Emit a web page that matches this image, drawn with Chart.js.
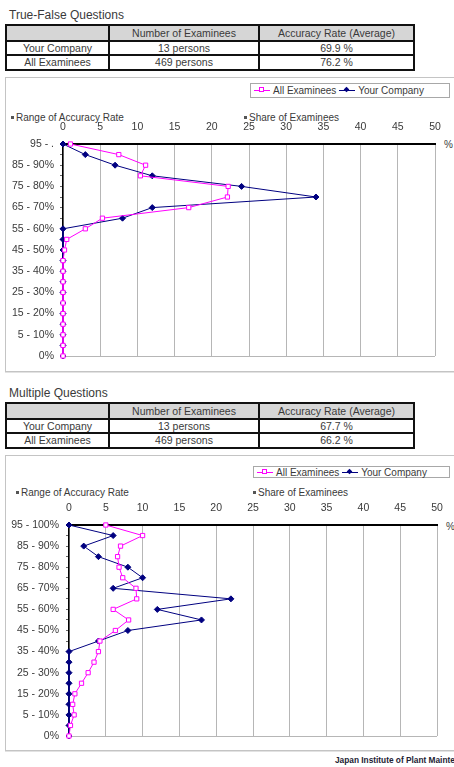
<!DOCTYPE html>
<html>
<head>
<meta charset="utf-8">
<script src="https://cdn.jsdelivr.net/npm/chart.js@4/dist/chart.umd.min.js"></script>
<style>
  body { margin:0; width:454px; height:767px; overflow:hidden; background:#fff; position:relative;
         font-family:"Liberation Sans", Arial, sans-serif; color:#3a3a3a; }
  .abs { position:absolute; white-space:nowrap; }
  .title { font-size:12px; }
  table.sum { position:absolute; left:5px; border-collapse:collapse; font-size:10.5px; table-layout:fixed; }
  table.sum td { border:2px solid #111; text-align:center; padding:0; line-height:11px; overflow:hidden; }
  table.sum tr.head td { background:#d6d6d6; height:14px; }
  table.sum tr.r1 td { height:12px; }
  table.sum tr.r2 td { height:13px; }
  .box { position:absolute; left:5px; width:460px; border:1px solid #c4c4c4; border-right:none; box-shadow:0 1px 0 #e2e2e2; }
  .legend { position:absolute; border:1px solid #a8a8a8; background:#fff; font-size:10px; display:flex; align-items:center; padding:0 3px; box-sizing:border-box; }
  .key { position:relative; display:inline-block; width:16px; height:9px; margin-right:3px; }
  .key .ln { position:absolute; left:0; right:0; top:4px; height:1px; }
  .key .mk { position:absolute; left:5px; top:1px; width:5px; height:5px; box-sizing:border-box; }
  .note { font-size:10px; }
  .bul:before { content:""; display:inline-block; width:3px; height:3px; background:#555; margin-right:2px; vertical-align:2px; }
  canvas { position:absolute; }
</style>
</head>
<body>

<div class="abs title" style="left:9px; top:8px;">True-False Questions</div>
<table class="sum" style="top:24px;">
  <colgroup><col style="width:103px"><col style="width:150px"><col style="width:155px"></colgroup>
  <tr class="head"><td></td><td>Number of Examinees</td><td>Accuracy Rate (Average)</td></tr>
  <tr class="r1"><td>Your Company</td><td>13 persons</td><td>69.9 %</td></tr>
  <tr class="r2"><td>All Examinees</td><td>469 persons</td><td>76.2 %</td></tr>
</table>
<div class="box" style="top:77px; height:293px;"></div>
<div class="legend" style="left:250px; top:83px; width:200px; height:15px;">
  <span class="key"><span class="ln" style="background:#ff00ff"></span><span class="mk" style="border:1px solid #ff00ff;background:#fff"></span></span>All Examinees&nbsp;
  <span class="key"><span class="ln" style="background:#000080"></span><span class="mk" style="background:#000080;transform:rotate(45deg) scale(0.8)"></span></span>Your Company
</div>
<div class="abs note bul" style="left:11px; top:112px;">Range of Accuracy Rate</div>
<div class="abs note bul" style="left:244px; top:112px;">Share of Examinees</div>
<div class="abs note" style="left:444px; top:139px;">%</div>
<canvas id="tfChart" width="449" height="294" style="left:5px; top:77px;"></canvas>

<div class="abs title" style="left:9px; top:386px;">Multiple Questions</div>
<table class="sum" style="top:402px;">
  <colgroup><col style="width:103px"><col style="width:150px"><col style="width:155px"></colgroup>
  <tr class="head"><td></td><td>Number of Examinees</td><td>Accuracy Rate (Average)</td></tr>
  <tr class="r1"><td>Your Company</td><td>13 persons</td><td>67.7 %</td></tr>
  <tr class="r2"><td>All Examinees</td><td>469 persons</td><td>66.2 %</td></tr>
</table>
<div class="box" style="top:455px; height:294px;"></div>
<div class="legend" style="left:253px; top:466px; width:197px; height:12px;">
  <span class="key"><span class="ln" style="background:#ff00ff"></span><span class="mk" style="border:1px solid #ff00ff;background:#fff"></span></span>All Examinees&nbsp;
  <span class="key"><span class="ln" style="background:#000080"></span><span class="mk" style="background:#000080;transform:rotate(45deg) scale(0.8)"></span></span>Your Company
</div>
<div class="abs note bul" style="left:16px; top:487px;">Range of Accuracy Rate</div>
<div class="abs note bul" style="left:253px; top:487px;">Share of Examinees</div>
<div class="abs note" style="left:446px; top:521px;">%</div>
<canvas id="mcChart" width="449" height="295" style="left:5px; top:455px;"></canvas>

<div class="abs" style="left:335px; top:755px; font-size:8.3px; font-weight:bold; color:#223;">Japan Institute of Plant Maintenance</div>

<script>
// 正答率の区分 (上から下へ)
const rangeLabels = ['95 - 100%', '90 - 95%', '85 - 90%', '80 - 85%', '75 - 80%', '70 - 75%',
  '65 - 70%', '60 - 65%', '55 - 60%', '50 - 55%', '45 - 50%', '40 - 45%', '35 - 40%',
  '30 - 35%', '25 - 30%', '20 - 25%', '15 - 20%', '10 - 15%', '5 - 10%', '0 - 5%', '0%'];

// 表示される目盛ラベル (1つおき)
const tfTickLabels = ['95 - .', '85 - 90%', '75 - 80%', '65 - 70%', '55 - 60%', '45 - 50%',
  '35 - 40%', '25 - 30%', '15 - 20%', '5 - 10%', '0%'];
const mcTickLabels = ['95 - 100%', '85 - 90%', '75 - 80%', '65 - 70%', '55 - 60%', '45 - 50%',
  '35 - 40%', '25 - 30%', '15 - 20%', '5 - 10%', '0%'];

// 受験者の割合 (%)
const tfAll   = [1, 7.5, 11.1, 10.4, 22.2, 22.1, 16.9, 5.3, 3, 0.5, 0.2, 0, 0, 0, 0, 0, 0, 0, 0, 0, 0];
const tfYours = [0, 3, 7, 12, 24, 34, 12, 8, 0, 0, 0, 0, 0, 0, 0, 0, 0, 0, 0, 0, 0];
const mcAll   = [5, 10, 7, 6.6, 6.8, 7.3, 9.1, 9.2, 6, 8.1, 6.3, 4.2, 4, 3.4, 2.6, 1.7, 0.8, 0.5, 0.7, 0.2, 0];
const mcYours = [0, 6, 2, 4, 8, 10, 6, 22, 12, 18, 8, 4, 0, 0, 0, 0, 0, 0, 0, 0, 0];

const shareTicks = { min: 0, max: 50, step: 5 };

const GRID = '#b6b6b6';
const FONT = { family: '"Liberation Sans", Arial, sans-serif', size: 10.5 };

function makeChart(id, allData, yourData, tickLabels, dims) {
    const ctx = document.getElementById(id).getContext('2d');
    return new Chart(ctx, {
        type: 'line',
        data: {
            labels: rangeLabels,
            datasets: [{
                label: 'All Examinees',
                data: allData,
                borderColor: '#ff00ff',
                borderWidth: 1,
                pointStyle: 'rect',
                pointRadius: 3,
                pointBackgroundColor: '#fff',
                pointBorderColor: '#ff00ff',
                pointBorderWidth: 1,
                tension: 0,
                clip: false
            }, {
                label: 'Your Company',
                data: yourData,
                borderColor: '#000080',
                borderWidth: 1,
                pointStyle: 'rectRot',
                pointRadius: 3,
                pointBackgroundColor: '#000080',
                pointBorderColor: '#000080',
                pointBorderWidth: 1,
                tension: 0,
                clip: false
            }]
        },
        options: {
            indexAxis: 'y',
            responsive: false,
            animation: false,
            layout: { padding: { left: 0, top: 0, right: dims.right, bottom: dims.bottom } },
            scales: {
                x: {
                    type: 'linear',
                    position: 'top',
                    min: shareTicks.min,
                    max: shareTicks.max,
                    ticks: { stepSize: shareTicks.step, padding: 11, color: '#3a3a3a', font: FONT, maxRotation: 0 },
                    grid: { color: GRID, drawTicks: false, lineWidth: 1 },
                    border: { color: '#000', width: 2 },
                    afterFit: s => { s.height = dims.top; }
                },
                y: {
                    type: 'category',
                    ticks: {
                        autoSkip: false,
                        padding: dims.labelPad,
                        color: '#3a3a3a',
                        font: FONT,
                        callback: (v, i) => (i % 2 === 0 ? tickLabels[i / 2] : '')
                    },
                    grid: {
                        color: c => (c.index === rangeLabels.length - 1 ? GRID : 'rgba(0,0,0,0)'),
                        tickColor: '#666',
                        tickLength: 3
                    },
                    border: { color: '#000', width: 1.5 },
                    afterFit: s => { s.width = dims.left; }
                }
            },
            plugins: {
                legend: { display: false },
                tooltip: { enabled: false }
            }
        }
    });
}

makeChart('tfChart', tfAll, tfYours, tfTickLabels, { left: 58, top: 67, right: 19, bottom: 15, labelPad: 6 });
makeChart('mcChart', mcAll, mcYours, mcTickLabels, { left: 64, top: 70, right: 17, bottom: 14, labelPad: 7 });
</script>
</body>
</html>
